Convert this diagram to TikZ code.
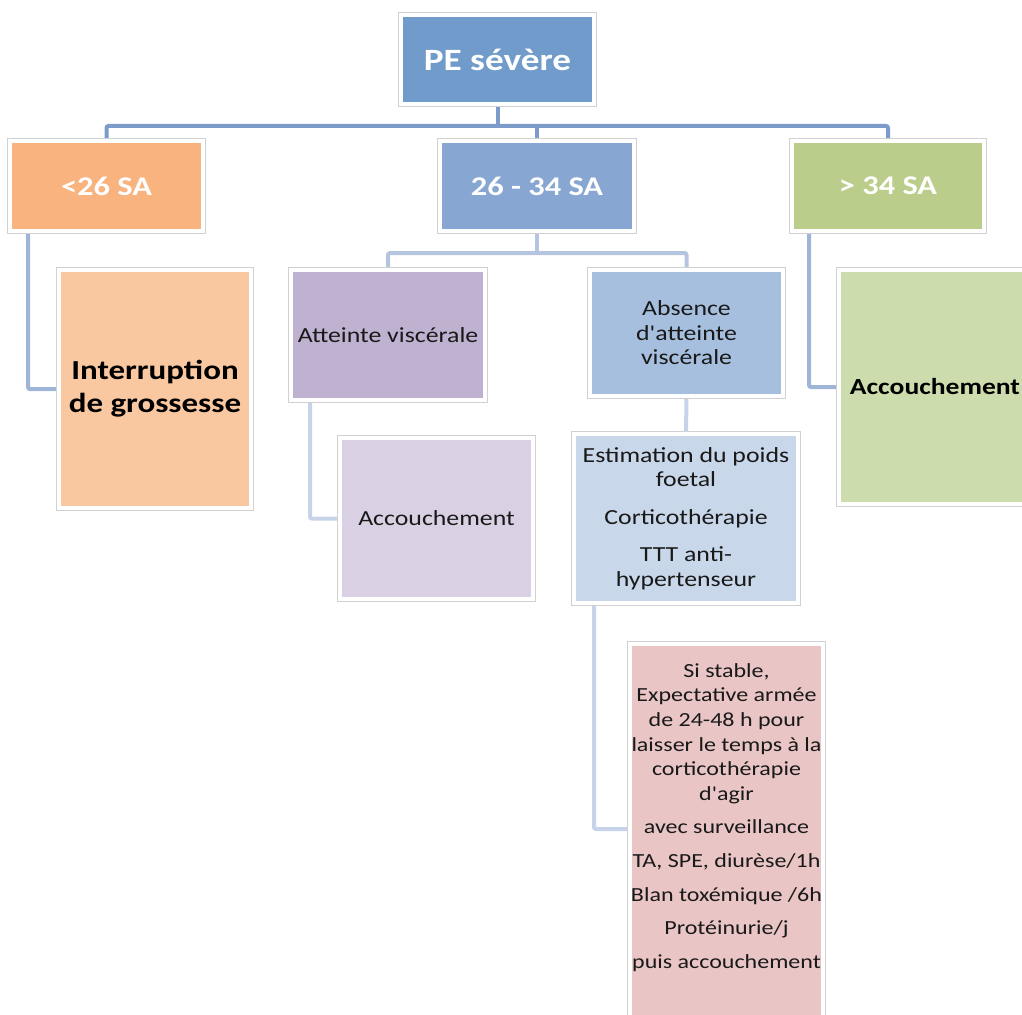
\documentclass[tikz,border=0pt]{standalone}
\usepackage{fontspec}
\newfontfamily\carlito{Carlito}[FakeStretch=1.2]
\usetikzlibrary{backgrounds}
\definecolor{rootblue}{HTML}{709BCB}
\definecolor{midblue}{HTML}{87A7D2}
\definecolor{ltorange}{HTML}{F8B37E}
\definecolor{rtgreen}{HTML}{BBCD8A}
\definecolor{interrfill}{HTML}{F9C8A1}
\definecolor{rtaccfill}{HTML}{CDDCAC}
\definecolor{attfill}{HTML}{BFB1D0}
\definecolor{accfill}{HTML}{D9D1E3}
\definecolor{absfill}{HTML}{A7BFDE}
\definecolor{estfill}{HTML}{C9D7EA}
\definecolor{survfill}{HTML}{E9C6C5}
\definecolor{connA}{HTML}{7C9BCB}
\definecolor{connB}{HTML}{9FB5D8}
\definecolor{connC}{HTML}{B5C5E0}
\definecolor{connD}{HTML}{C7D3E8}
\tikzset{
box/.style={rectangle, draw=white, line width=4pt, inner sep=0pt, align=center,
  preaction={draw=black!18, line width=5.5pt}},
head/.style={box, text=white, font=\carlito\bfseries\fontsize{27}{33}\selectfont},
leaf/.style={box, text=black!90, font=\carlito\fontsize{21.5}{24.6}\selectfont},
bigleaf/.style={box, text=black, font=\carlito\bfseries\fontsize{27.5}{33}\selectfont},
conn/.style={line width=4pt, rounded corners=2pt}
}

\begin{document}
\begin{tikzpicture}[x=1pt, y=1pt]
\useasboundingbox (0,0) rectangle (1022,-1014);
\node (root) [head, fill=rootblue, minimum width=193pt, minimum height=89pt,
  font=\carlito\bfseries\fontsize{31}{37}\selectfont] at (497.5,-59.5) {PE sévère};
\node (lt) [head, fill=ltorange, minimum width=193pt, minimum height=90pt] at (106.5,-186) {<26 SA};
\node (mid) [head, fill=midblue, minimum width=194pt, minimum height=90pt] at (537,-186) {26 - 34 SA};
\node (rt) [head, fill=rtgreen, minimum width=192pt, minimum height=90pt] at (888,-186) {> 34 SA};
\node (interr) [bigleaf, fill=interrfill, minimum width=192pt, minimum height=238pt] at (155,-389)
  {Interruption\\de grossesse};
\node (rtacc) [bigleaf, fill=rtaccfill, minimum width=192pt, minimum height=234pt,
  font=\carlito\bfseries\fontsize{23}{28}\selectfont] at (935,-387) {Accouchement};
\node (att) [leaf, fill=attfill, minimum width=194pt, minimum height=130pt] at (388,-335)
  {Atteinte viscérale};
\node (abs) [leaf, fill=absfill, minimum width=193pt, minimum height=126pt] at (686.5,-333)
  {Absence\\d'atteinte\\viscérale};
\node (acc) [leaf, fill=accfill, minimum width=193pt, minimum height=161pt] at (436.5,-518.5)
  {Accouchement};
\node (est) [leaf, fill=estfill, minimum width=224pt, minimum height=169pt] at (686,-518.5)
  {Estimation du poids\\foetal\\[13pt]Corticothérapie\\[13pt]TTT anti-\\hypertenseur};
\node (surv) [leaf, fill=survfill, anchor=north, minimum width=193pt, inner ysep=16pt,
  text depth=370pt, font=\carlito\fontsize{20}{24.6}\selectfont] at (726.5,-642)
  {\begin{tabular}[t]{@{}c@{}}
  Si stable,\\Expectative armée\\de 24-48 h pour\\laisser le temps à la\\corticothérapie\\d'agir\\[9pt]
  avec surveillance\\[9pt]TA, SPE, diurèse/1h\\[9pt]Blan toxémique /6h\\[9pt]
  Protéinurie/j\\[9pt]puis accouchement
  \end{tabular}};
\coordinate (bus) at ([yshift=-20]root.south);
\coordinate (midbus) at ([yshift=-20]mid.south);
\begin{scope}[on background layer]
\draw[conn, connA] (root.south) -- (bus);
\draw[conn, connA] (lt.north) |- (bus) -| (rt.north);
\draw[conn, connA] (mid.north) -- (mid.north |- bus);
\draw[conn, connB] ([xshift=20]lt.south west) |- (interr.west);
\draw[conn, connB] ([xshift=19]rt.south west) |- (rtacc.west);
\draw[conn, connC] (mid.south) -- (midbus);
\draw[conn, connC] (att.north) |- (midbus) -| (abs.north);
\draw[conn, connD] ([xshift=21]att.south west) |- (acc.west);
\draw[conn, connD] (abs.south) -- (est.north);
\draw[conn, connD] ([xshift=22]est.south west) |- ([yshift=-187]surv.north west);
\end{scope}
\end{tikzpicture}
\end{document}
